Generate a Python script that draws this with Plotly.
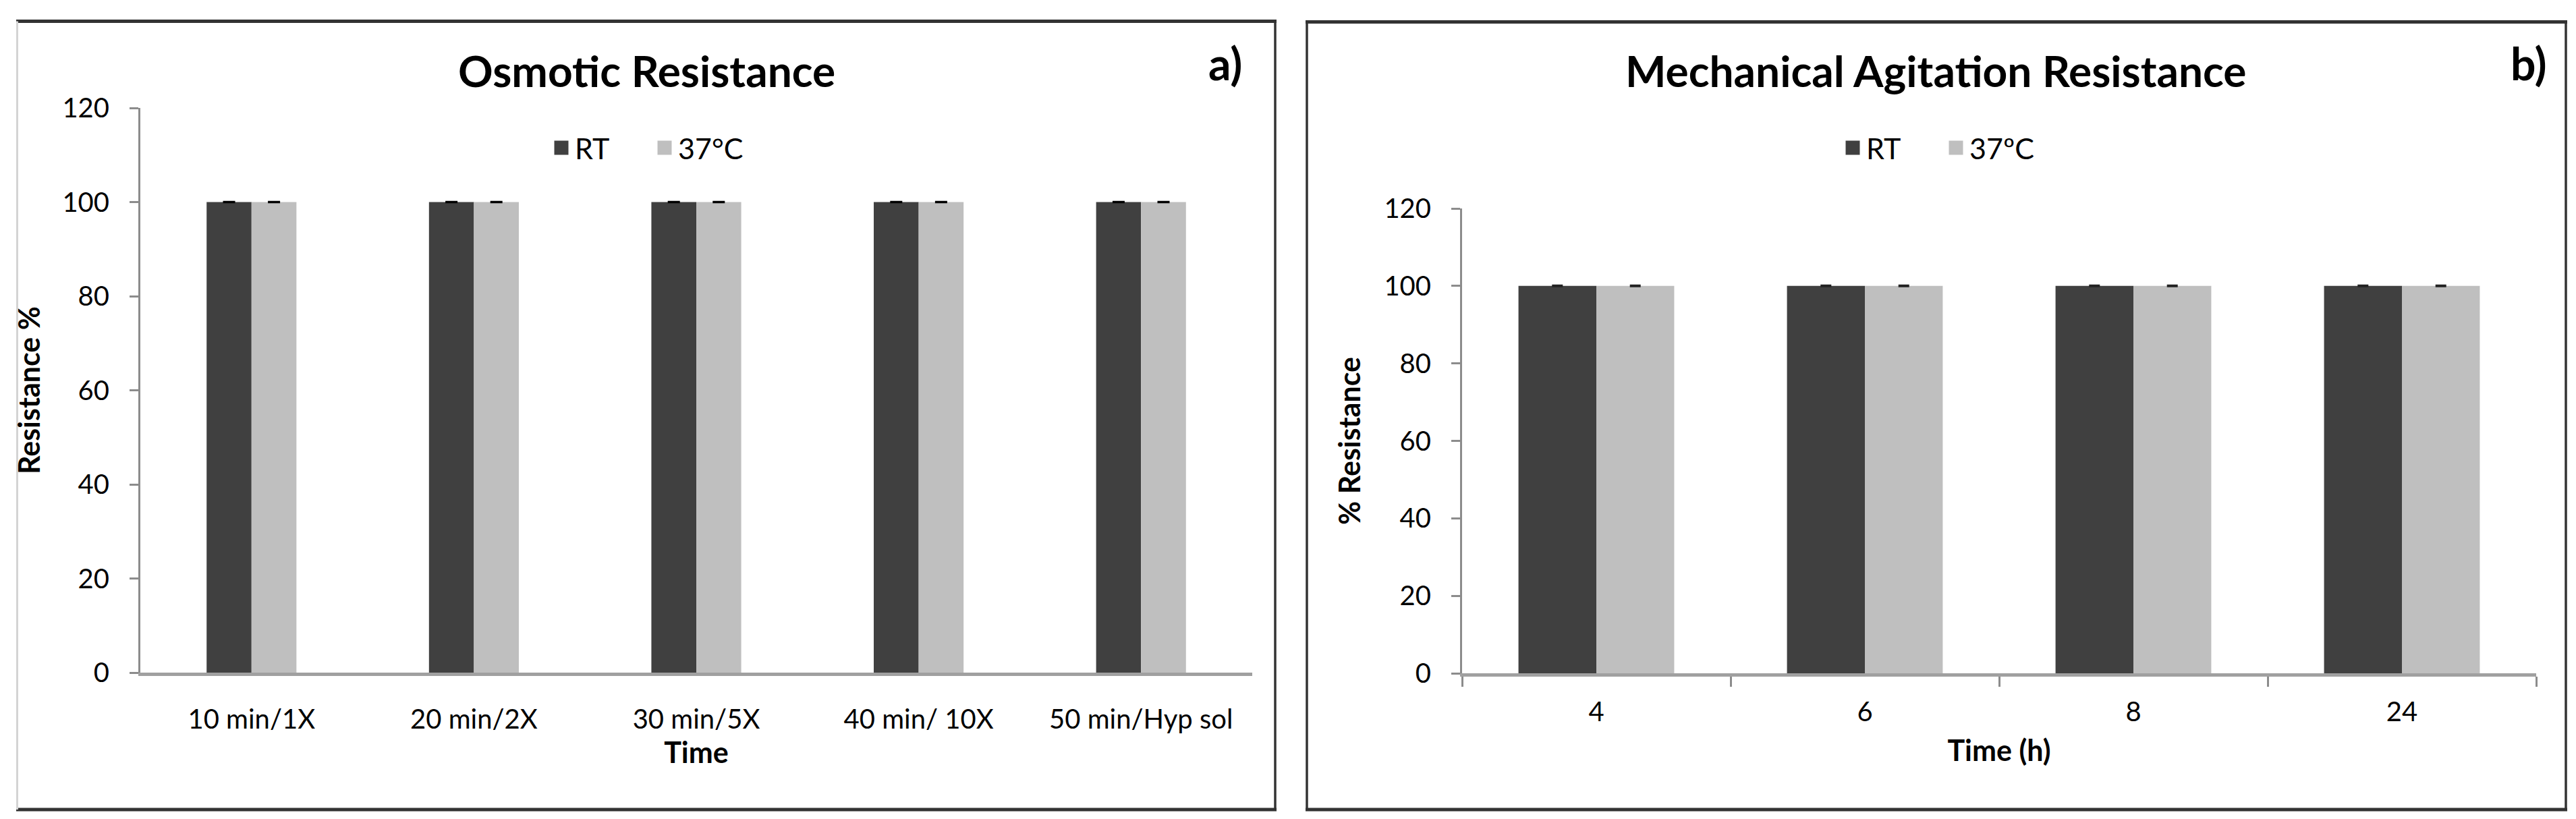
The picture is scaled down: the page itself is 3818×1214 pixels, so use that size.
import plotly.graph_objects as go

# ---------------- data ----------------
cats_a = ["10 min/1X", "20 min/2X", "30 min/5X", "40 min/ 10X", "50 min/Hyp sol"]
rt_a = [100, 100, 100, 100, 100]
t37_a = [100, 100, 100, 100, 100]
err_rt_a = [0, 0, 0, 0, 0]
err_37_a = [0, 0, 0, 0, 0]

cats_b = ["4", "6", "8", "24"]
rt_b = [100, 100, 100, 100]
t37_b = [100, 100, 100, 100]
err_rt_b = [0, 0, 0, 0]
err_37_b = [0, 0, 0, 0]

series_names_a = ["RT", "37°C"]
series_names_b = ["RT", "37ºC"]
y_ticks = [0, 20, 40, 60, 80, 100, 120]

# ---------------- style ----------------
W, H = 3818, 1214
FONT = "Lato"
DARK = "#404040"
LIGHT = "#bfbfbf"
AXIS_GREY = "#8c8c8c"


def px(x):
    return x / W


def py(y):
    return 1 - y / H


fig = go.Figure()

wa = 0.202
wb = 0.29

fig.add_trace(go.Bar(x=cats_a, y=rt_a, name=series_names_a[0], marker=dict(color=DARK),
                     width=wa, offset=-wa, xaxis="x", yaxis="y", showlegend=False,
                     error_y=dict(type="data", array=err_rt_a, visible=True, color="black",
                                  thickness=3.5, width=9)))
fig.add_trace(go.Bar(x=cats_a, y=t37_a, name=series_names_a[1], marker=dict(color=LIGHT),
                     width=wa, offset=0, xaxis="x", yaxis="y", showlegend=False,
                     error_y=dict(type="data", array=err_37_a, visible=True, color="black",
                                  thickness=3.5, width=9)))
fig.add_trace(go.Bar(x=cats_b, y=rt_b, name=series_names_b[0], marker=dict(color=DARK),
                     width=wb, offset=-wb, xaxis="x2", yaxis="y2", showlegend=False,
                     error_y=dict(type="data", array=err_rt_b, visible=True, color="#222222",
                                  thickness=4, width=8)))
fig.add_trace(go.Bar(x=cats_b, y=t37_b, name=series_names_b[1], marker=dict(color=LIGHT),
                     width=wb, offset=0, xaxis="x2", yaxis="y2", showlegend=False,
                     error_y=dict(type="data", array=err_37_b, visible=True, color="#222222",
                                  thickness=4, width=8)))

# legend entries (square swatches matching the bar colours)
for nm, col, ax, ay, lg in [(series_names_a[0], DARK, "x", "y", "legend"),
                            (series_names_a[1], LIGHT, "x", "y", "legend"),
                            (series_names_b[0], DARK, "x2", "y2", "legend2"),
                            (series_names_b[1], LIGHT, "x2", "y2", "legend2")]:
    fig.add_trace(go.Scatter(x=[None], y=[None], mode="markers", name=nm,
                             marker=dict(symbol="square", size=16, color=col,
                                         line=dict(color=col, width=5)),
                             xaxis=ax, yaxis=ay, legend=lg, hoverinfo="skip"))

tickfont = dict(family=FONT, size=40, color="black")
titlefont = dict(family=FONT, size=43, color="black")

common_y = dict(range=[0, 120], tickvals=y_ticks, showline=True, linecolor=AXIS_GREY,
                linewidth=3, ticks="outside", ticklen=13, tickwidth=3, tickcolor=AXIS_GREY,
                showgrid=False, zeroline=False, tickfont=tickfont, automargin=False,
                ticklabelstandoff=22, fixedrange=True)

legend_common = dict(orientation="h", xanchor="center", yanchor="middle",
                     font=dict(family=FONT, size=43, color="black"),
                     bgcolor="rgba(0,0,0,0)", itemwidth=30, tracegroupgap=0,
                     entrywidth=108)

fig.update_layout(
    width=W, height=H, template="none",
    margin=dict(l=0, r=0, t=0, b=0),
    paper_bgcolor="white", plot_bgcolor="white",
    barmode="group",
    font=dict(family=FONT, color="black"),
    xaxis=dict(domain=[px(200), px(1848)], anchor="y", type="category",
               range=[-0.5, 4.5], showline=True, linecolor="#a0a0a0", linewidth=5,
               ticks="", showgrid=False, zeroline=False, tickfont=tickfont,
               ticklabelstandoff=30, automargin=False,
               title=dict(text="<b>Time</b>", font=titlefont, standoff=14)),
    yaxis=dict(domain=[py(989), py(152)], anchor="x",
               title=dict(text="<b>Resistance %</b>", font=titlefont, standoff=20),
               **common_y),
    xaxis2=dict(domain=[px(2159), px(3751)], anchor="y2", type="category",
                range=[-0.5, 3.5], showline=True, linecolor="#a0a0a0", linewidth=5,
                ticks="outside", tickson="boundaries", ticklen=15, tickwidth=3,
                tickcolor=AXIS_GREY, showgrid=False, zeroline=False, tickfont=tickfont,
                ticklabelstandoff=18, automargin=False,
                title=dict(text="<b>Time (h)</b>", font=titlefont, standoff=22)),
    yaxis2=dict(domain=[py(990), py(301)], anchor="x2",
                title=dict(text="<b>% Resistance</b>", font=titlefont, standoff=22),
                **common_y),
    legend=dict(x=px(957), y=py(211), **legend_common),
    legend2=dict(x=px(2871), y=py(211), **legend_common),
    showlegend=True,
)

# titles and panel labels
title_font = dict(family=FONT, size=64, color="black")
label_font = dict(family=FONT, size=66, color="black")
fig.add_annotation(text="<b>Osmotic Resistance</b>", x=px(950), y=py(97), xref="paper",
                   yref="paper", showarrow=False, xanchor="center", yanchor="middle",
                   font=title_font)
fig.add_annotation(text="<b>Mechanical Agitation Resistance</b>", x=px(2861), y=py(97),
                   xref="paper", yref="paper", showarrow=False, xanchor="center",
                   yanchor="middle", font=title_font)
fig.add_annotation(text="<b>a)</b>", x=px(1808), y=py(85), xref="paper", yref="paper",
                   showarrow=False, xanchor="center", yanchor="middle", font=label_font)
fig.add_annotation(text="<b>b)</b>", x=px(3740), y=py(85), xref="paper", yref="paper",
                   showarrow=False, xanchor="center", yanchor="middle", font=label_font)

# panel frames
FRAME = "#333333"


def hline(x0, x1, y, w, c):
    fig.add_shape(type="line", xref="paper", yref="paper", x0=px(x0), x1=px(x1),
                  y0=py(y), y1=py(y), line=dict(color=c, width=w))


def vline(x, y0, y1, w, c):
    fig.add_shape(type="line", xref="paper", yref="paper", x0=px(x), x1=px(x),
                  y0=py(y0), y1=py(y1), line=dict(color=c, width=w))


hline(16, 1884, 23.5, 5, FRAME)
hline(16, 1884, 1192, 5, FRAME)
vline(17.5, 23.5, 1192, 3, "#d4d4d4")
vline(1882, 23.5, 1192, 3.5, FRAME)

hline(1927, 3797, 24.5, 5, FRAME)
hline(1927, 3797, 1192, 5, FRAME)
vline(1929, 24.5, 1192, 3.5, FRAME)
vline(3795, 24.5, 1192, 3.5, FRAME)

fig.write_html("out.html")
